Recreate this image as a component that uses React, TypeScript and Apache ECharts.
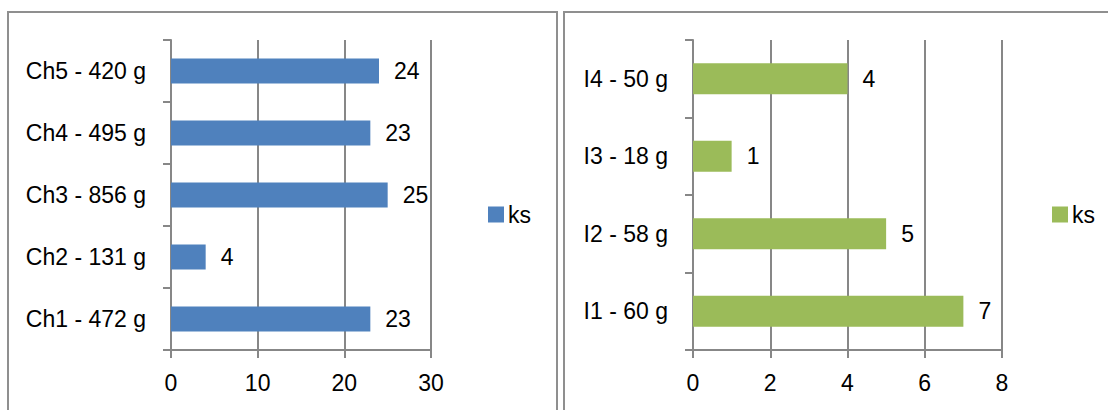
import React, { useEffect, useRef } from "react";
import * as echarts from "echarts";

const leftCategories = ["Ch1 - 472 g", "Ch2 - 131 g", "Ch3 - 856 g", "Ch4 - 495 g", "Ch5 - 420 g"];
const leftValues = [23, 4, 25, 23, 24];
const rightCategories = ["I1 - 60 g", "I2 - 58 g", "I3 - 18 g", "I4 - 50 g"];
const rightValues = [7, 5, 1, 4];
const legendLabel = "ks";
const leftAxisMax = 30;
const leftAxisInterval = 10;
const rightAxisMax = 8;
const rightAxisInterval = 2;

const FONT = "Liberation Sans, Arial, sans-serif";
const GRID_COLOR = "#878787";

export default function App() {
  const ref = useRef<HTMLDivElement>(null);
  useEffect(() => {
    if (!ref.current) return;
    const chart = echarts.init(ref.current, undefined, { renderer: "svg" });
    const textStyle = { color: "#000", fontFamily: FONT, fontSize: 23 };
    const xAxisCommon = {
      type: "value",
      min: 0,
      axisLine: { show: true, lineStyle: { color: GRID_COLOR, width: 2 } },
      axisTick: { show: true, length: 8, lineStyle: { color: GRID_COLOR, width: 2 } },
      splitLine: { show: true, lineStyle: { color: GRID_COLOR, width: 2 } },
      axisLabel: { ...textStyle, margin: 21 },
    };
    const yAxisCommon = {
      type: "category",
      axisLine: { show: true, lineStyle: { color: GRID_COLOR, width: 2 } },
      axisTick: { show: true, length: 8, lineStyle: { color: GRID_COLOR, width: 2 } },
      axisLabel: { ...textStyle, margin: 25 },
    };
    const option: any = {
      animation: false,
      textStyle: { fontFamily: FONT },
      graphic: [
        { type: "rect", shape: { x: 8, y: 12, width: 549, height: 420 }, style: { fill: "none", stroke: "#8f8f8f", lineWidth: 2 }, silent: true },
        { type: "rect", shape: { x: 564, y: 12, width: 560, height: 420 }, style: { fill: "none", stroke: "#8f8f8f", lineWidth: 2 }, silent: true },
      ],
      legend: [
        {
          data: ["ksL"],
          left: 488,
          top: 203,
          icon: "rect",
          itemWidth: 16,
          itemHeight: 16,
          itemGap: 5,
          padding: 0,
          formatter: () => legendLabel,
          textStyle: { ...textStyle, padding: [0, 0, 0, -1] },
        },
        {
          data: ["ksR"],
          left: 1052,
          top: 203,
          icon: "rect",
          itemWidth: 16,
          itemHeight: 16,
          itemGap: 5,
          padding: 0,
          formatter: () => legendLabel,
          textStyle: { ...textStyle, padding: [0, 0, 0, -1] },
        },
      ],
      grid: [
        { left: 171, top: 40, width: 260, height: 310 },
        { left: 693, top: 40, width: 309, height: 310 },
      ],
      xAxis: [
        { ...xAxisCommon, gridIndex: 0, max: leftAxisMax, interval: leftAxisInterval },
        { ...xAxisCommon, gridIndex: 1, max: rightAxisMax, interval: rightAxisInterval },
      ],
      yAxis: [
        { ...yAxisCommon, gridIndex: 0, data: leftCategories },
        { ...yAxisCommon, gridIndex: 1, data: rightCategories },
      ],
      series: [
        {
          name: "ksL",
          type: "bar",
          xAxisIndex: 0,
          yAxisIndex: 0,
          data: leftValues,
          barWidth: "40%",
          itemStyle: { color: "#4F81BD" },
          label: { show: true, position: "right", distance: 15, ...textStyle },
        },
        {
          name: "ksR",
          type: "bar",
          xAxisIndex: 1,
          yAxisIndex: 1,
          data: rightValues,
          barWidth: "40%",
          itemStyle: { color: "#9BBB59" },
          label: { show: true, position: "right", distance: 15, ...textStyle },
        },
      ],
    };
    chart.setOption(option);
    return () => chart.dispose();
  }, []);
  return (
    <div
      ref={ref}
      style={{ position: "fixed", left: 0, top: 0, width: 1108, height: 410, background: "#fff" }}
    />
  );
}
